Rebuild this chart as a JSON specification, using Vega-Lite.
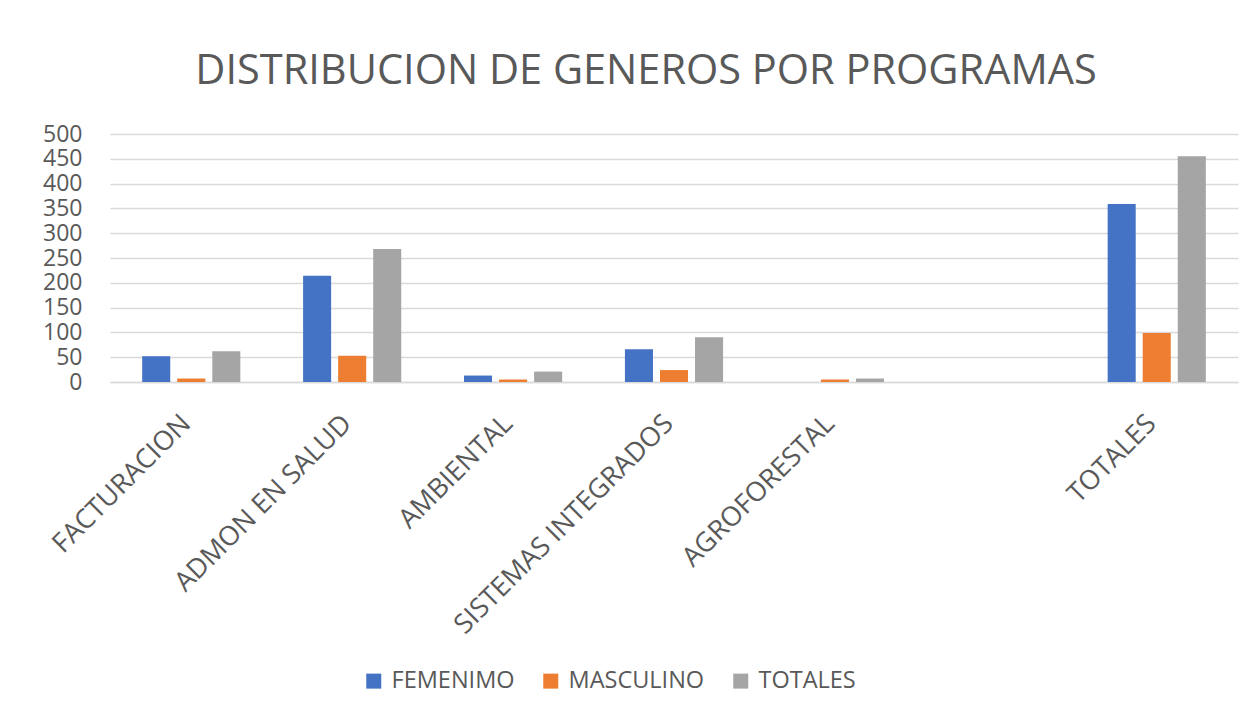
{
  "$schema": "https://vega.github.io/schema/vega-lite/v6.json",
  "autosize": {"type": "none"},
  "width": 1128,
  "height": 248,
  "padding": {"left": 110, "top": 134, "right": 17, "bottom": 340},
  "background": "white",
  "title": {
    "text": "DISTRIBUCION DE GENEROS POR PROGRAMAS",
    "font": "Open Sans",
    "fontSize": 41.5,
    "fontWeight": "normal",
    "color": "#595959",
    "anchor": "middle",
    "dx": -28,
    "offset": 31
  },
  "data": {
    "values": [
      {"programa": "FACTURACION", "genero": "FEMENIMO", "valor": 52},
      {"programa": "FACTURACION", "genero": "MASCULINO", "valor": 7},
      {"programa": "FACTURACION", "genero": "TOTALES", "valor": 62},
      {"programa": "ADMON EN SALUD", "genero": "FEMENIMO", "valor": 214},
      {"programa": "ADMON EN SALUD", "genero": "MASCULINO", "valor": 53},
      {"programa": "ADMON EN SALUD", "genero": "TOTALES", "valor": 268},
      {"programa": "AMBIENTAL", "genero": "FEMENIMO", "valor": 13},
      {"programa": "AMBIENTAL", "genero": "MASCULINO", "valor": 5},
      {"programa": "AMBIENTAL", "genero": "TOTALES", "valor": 21},
      {"programa": "SISTEMAS INTEGRADOS", "genero": "FEMENIMO", "valor": 66},
      {"programa": "SISTEMAS INTEGRADOS", "genero": "MASCULINO", "valor": 24},
      {"programa": "SISTEMAS INTEGRADOS", "genero": "TOTALES", "valor": 90},
      {"programa": "AGROFORESTAL", "genero": "FEMENIMO", "valor": 0},
      {"programa": "AGROFORESTAL", "genero": "MASCULINO", "valor": 5},
      {"programa": "AGROFORESTAL", "genero": "TOTALES", "valor": 7},
      {"programa": "TOTALES", "genero": "FEMENIMO", "valor": 359},
      {"programa": "TOTALES", "genero": "MASCULINO", "valor": 99},
      {"programa": "TOTALES", "genero": "TOTALES", "valor": 455}
    ]
  },
  "mark": {"type": "bar"},
  "encoding": {
    "x": {
      "field": "programa",
      "type": "nominal",
      "sort": null,
      "scale": {
        "domain": ["FACTURACION", "ADMON EN SALUD", "AMBIENTAL", "SISTEMAS INTEGRADOS", "AGROFORESTAL", " ", "TOTALES"],
        "paddingInner": 0.39,
        "paddingOuter": 0.2
      },
      "axis": {
        "title": null,
        "labelAngle": -45,
        "labelAlign": "right",
        "labelBaseline": "top",
        "labelFont": "Open Sans",
        "labelFontSize": 27,
        "labelColor": "#595959",
        "labelPadding": 28,
        "labelOffset": -14,
        "labelLimit": 0,
        "labelOverlap": false,
        "ticks": false,
        "domain": true,
        "domainColor": "#D9D9D9",
        "domainWidth": 1.5,
        "grid": false
      }
    },
    "xOffset": {
      "field": "genero",
      "type": "nominal",
      "sort": ["FEMENIMO", "MASCULINO", "TOTALES"],
      "scale": {"paddingInner": 0.2, "paddingOuter": 0}
    },
    "y": {
      "field": "valor",
      "type": "quantitative",
      "scale": {"domain": [0, 500], "nice": false},
      "axis": {
        "title": null,
        "values": [0, 50, 100, 150, 200, 250, 300, 350, 400, 450, 500],
        "labelFont": "Open Sans",
        "labelFontSize": 23,
        "labelColor": "#595959",
        "labelPadding": 28,
        "labelOverlap": false,
        "labelBound": false,
        "ticks": false,
        "domain": false,
        "grid": true,
        "gridColor": "#D9D9D9",
        "gridWidth": 1.5
      }
    },
    "color": {
      "field": "genero",
      "type": "nominal",
      "sort": ["FEMENIMO", "MASCULINO", "TOTALES"],
      "scale": {
        "domain": ["FEMENIMO", "MASCULINO", "TOTALES"],
        "range": ["#4472C4", "#ED7D31", "#A5A5A5"]
      },
      "legend": {
        "title": null,
        "orient": "none",
        "direction": "horizontal",
        "legendX": 252,
        "legendY": 535,
        "symbolType": "square",
        "symbolSize": 225,
        "symbolStrokeWidth": 0,
        "labelFont": "Open Sans",
        "labelFontSize": 23.5,
        "labelColor": "#595959",
        "labelOffset": 6,
        "columnPadding": 24,
        "padding": 0
      }
    }
  },
  "config": {
    "view": {"stroke": null}
  }
}
